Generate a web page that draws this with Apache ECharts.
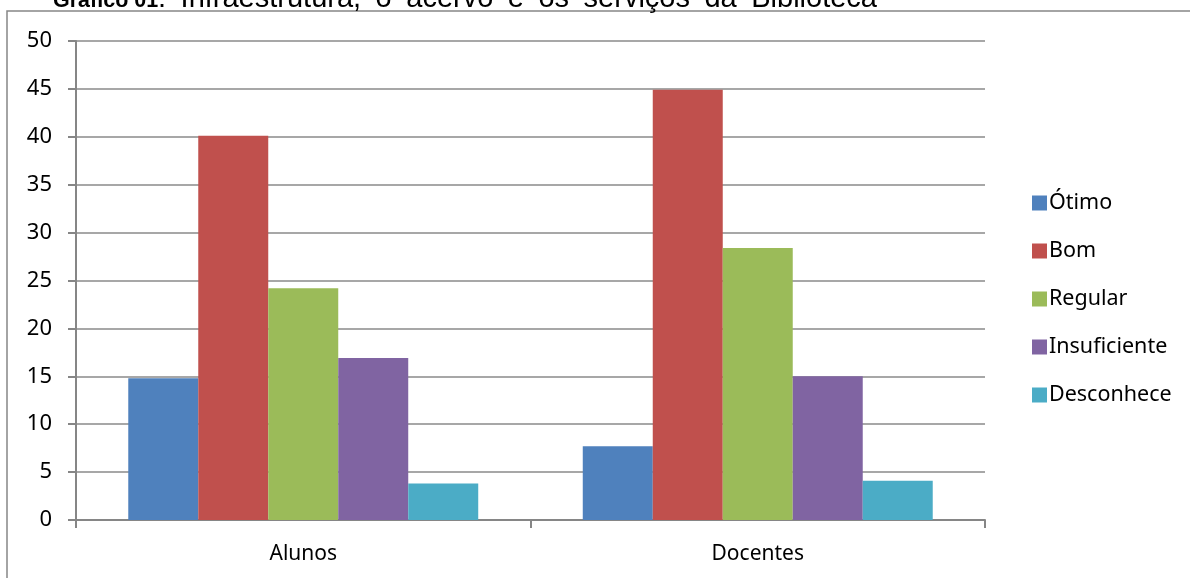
<!DOCTYPE html>
<html>
<head>
<meta charset="utf-8">
<script src="https://cdn.jsdelivr.net/npm/echarts@6/dist/echarts.min.js"></script>
<style>html,body{margin:0;padding:0;background:#fff}#c{width:1190px;height:578px}</style>
</head>
<body>
<div id="c"></div>
<script>
const categories = ['Alunos', 'Docentes'];
const seriesNames = ['Ótimo', 'Bom', 'Regular', 'Insuficiente', 'Desconhece'];
const otimo = [14.8, 7.7];
const bom = [40.1, 44.9];
const regular = [24.2, 28.4];
const insuficiente = [16.9, 15.0];
const desconhece = [3.8, 4.1];
const colors = ['#4F81BD', '#C0504D', '#9BBB59', '#8064A2', '#4BACC6'];
const values = [otimo, bom, regular, insuficiente, desconhece];
const titleBold = 'Gráfico 01';
const titleRest = ': Infraestrutura, o acervo e os serviços da Biblioteca';

const font = '"Noto Sans", "Open Sans", sans-serif';
const tfont = '"Liberation Sans", Arial, sans-serif';

// justified title line (word-spaced like the source document)
const ctx = document.createElement('canvas').getContext('2d');
const restSize = 29;
ctx.font = restSize + 'px ' + tfont;
const words = titleRest.split(' ');
const widths = words.map(w => ctx.measureText(w).width);
const restStart = 158, restEnd = 877;
const gap = (restEnd - restStart - widths.reduce((a, b) => a + b, 0)) / (words.length - 1);
const titleEls = [
  { type: 'text', x: 53, y: 1.5, style: { text: titleBold, fontSize: 21.5, fontWeight: 'bold', fontFamily: tfont, fill: '#000', verticalAlign: 'middle' } }
];
let cx = restStart;
words.forEach((w, i) => {
  titleEls.push({ type: 'text', x: cx, y: -1.5, style: { text: w, fontSize: restSize, fontFamily: tfont, fill: '#000', verticalAlign: 'middle' } });
  cx += widths[i] + gap;
});

const chart = echarts.init(document.getElementById('c'));
chart.setOption({
  animation: false,
  backgroundColor: '#fff',
  graphic: [
    { type: 'rect', shape: { x: 7, y: 11, width: 1250, height: 650 }, style: { fill: 'none', stroke: '#868686', lineWidth: 1.5 }, z: 0 }
  ].concat(titleEls),
  grid: { left: 76, right: 205, top: 41, bottom: 58 },
  legend: {
    orient: 'vertical', left: 1027, top: 186, itemWidth: 15, itemHeight: 15, itemGap: 24,
    icon: 'rect',
    textStyle: { fontFamily: font, fontSize: 21.5, lineHeight: 24, color: '#000', padding: [0, 0, 0, -3] },
    data: seriesNames
  },
  xAxis: {
    type: 'category', data: categories,
    axisLine: { lineStyle: { color: '#868686', width: 2 } },
    axisTick: { show: true, length: 8, lineStyle: { color: '#868686', width: 2 } },
    axisLabel: { fontFamily: font, fontSize: 21, color: '#000', margin: 24 }
  },
  yAxis: {
    type: 'value', min: 0, max: 50, interval: 5,
    axisLine: { show: true, lineStyle: { color: '#868686', width: 2 } },
    axisTick: { show: true, length: 8, lineStyle: { color: '#868686', width: 2 } },
    axisLabel: { fontFamily: font, fontSize: 22, color: '#000', margin: 24 },
    splitLine: { lineStyle: { color: '#8a8a8a', width: 1.5 } }
  },
  series: seriesNames.map((n, i) => ({
    name: n, type: 'bar', data: values[i], barGap: '0%', barCategoryGap: '23%',
    itemStyle: { color: colors[i] }
  }))
});
</script>
</body>
</html>
